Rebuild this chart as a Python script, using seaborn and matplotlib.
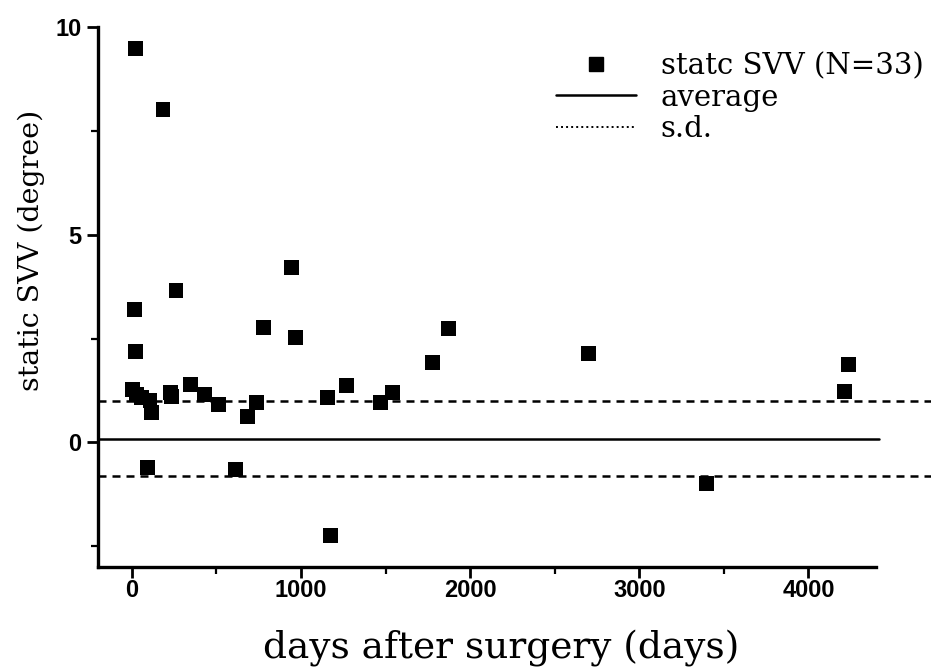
import matplotlib
matplotlib.use("Agg")
import matplotlib.pyplot as plt
from matplotlib.lines import Line2D
from matplotlib.ticker import MultipleLocator
import seaborn as sns
import pandas as pd

# Static SVV per patient vs. time since surgery
days = [4, 28, 58, 107, 117, 24, 184, 18, 22, 261, 91, 230, 232, 346, 429,
        514, 683, 738, 615, 777, 946, 965, 1157, 1268, 1175, 1470, 1541,
        1779, 1871, 2702, 3396, 4215, 4235]
svv = [1.28, 1.16, 1.08, 1.00, 0.72, 9.48, 8.02, 3.19, 2.19, 3.66, -0.60,
       1.20, 1.10, 1.40, 1.16, 0.92, 0.62, 0.97, -0.66, 2.77, 4.22, 2.52,
       1.08, 1.38, -2.24, 0.96, 1.20, 1.92, 2.74, 2.14, -0.98, 1.23, 1.87]

average = 0.09
sd = 0.90

legend_labels = ["statc SVV (N=33)", "average", "s.d."]
x_label = "days after surgery (days)"
y_label = "static SVV (degree)"

df = pd.DataFrame({"days": days, "svv": svv})

sns.set_theme(style="ticks")
plt.rcParams["font.family"] = ["DejaVu Serif", "Liberation Serif"]
plt.rcParams["text.color"] = "black"
plt.rcParams["axes.labelcolor"] = "black"

fig = plt.figure(figsize=(9.31, 6.68), dpi=100)
ax = fig.add_axes([0.1053, 0.1512, 0.8357, 0.8084])

sns.scatterplot(data=df, x="days", y="svv", marker="s", s=115, color="black",
                edgecolor="none", ax=ax, zorder=3, legend=False)

ax.axhline(average, color="black", lw=1.8, xmin=0, xmax=1.004, clip_on=False)
for level in (average + sd, average - sd):
    ax.axhline(level, color="black", lw=1.8, ls=(0, (3.2, 2.4)),
               xmin=0, xmax=1.075, clip_on=False)

ax.set_xlim(-200, 4400)
ax.set_ylim(-3, 10)
ax.xaxis.set_major_locator(MultipleLocator(1000))
ax.xaxis.set_minor_locator(MultipleLocator(500))
ax.yaxis.set_major_locator(MultipleLocator(5))
ax.yaxis.set_minor_locator(MultipleLocator(2.5))

for side in ("top", "right"):
    ax.spines[side].set_visible(False)
for side in ("left", "bottom"):
    ax.spines[side].set_linewidth(2.4)
    ax.spines[side].set_color("black")

ax.tick_params(which="major", direction="out", length=8, width=2.0,
               color="black")
ax.tick_params(axis="x", which="major", pad=1)
ax.tick_params(axis="y", which="major", pad=4)
ax.tick_params(which="minor", direction="out", length=5, width=1.6,
               color="black")
for lab in ax.get_xticklabels() + ax.get_yticklabels():
    lab.set_family(["Liberation Sans Narrow", "Liberation Sans", "DejaVu Sans"])
    lab.set_fontweight("bold")
    lab.set_fontsize(17)
    lab.set_color("black")

ax.set_xlabel(x_label, fontsize=27, color="black")
ax.set_ylabel(y_label, fontsize=20.5, color="black")
ax.xaxis.set_label_coords(0.518, -0.117, transform=ax.transAxes)
ax.yaxis.set_label_coords(-0.068, 0.587, transform=ax.transAxes)

handles = [
    Line2D([], [], marker="s", color="black", ls="none", markersize=10),
    Line2D([], [], color="black", lw=1.8),
    Line2D([], [], color="black", lw=1.4, ls=(0, (1, 1.6))),
]
leg = ax.legend(handles, legend_labels, loc="upper right",
                bbox_to_anchor=(1.076, 0.975), frameon=False, fontsize=21,
                handlelength=2.75, handletextpad=0.85, labelspacing=0.12,
                borderaxespad=0)
for t in leg.get_texts():
    t.set_color("black")

fig.savefig("out.png", dpi=100, facecolor="white")
